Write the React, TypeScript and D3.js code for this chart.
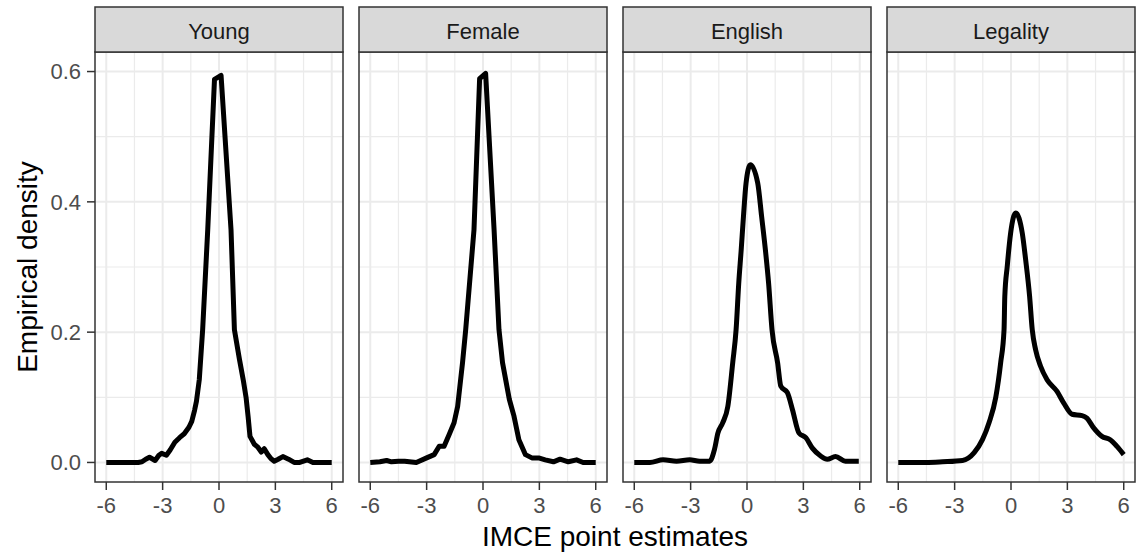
import React from "react";
import * as d3 from "d3";

// facet labels
const facets = ["Young", "Female", "English", "Legality"];

// axis breaks
const xTicks = [-6, -3, 0, 3, 6];
const xMinor = [-4.5, -1.5, 1.5, 4.5];
const yTicks = [0, 0.2, 0.4, 0.6];
const yMinor = [0.1, 0.3, 0.5];

// density estimates: [x, density]
const young: [number, number][] = [
  [-6, 0], [-5, 0], [-4.3, 0], [-4.1, 0.001], [-3.9, 0.005], [-3.7, 0.008], [-3.4, 0.003],
  [-3.2, 0.011], [-3.05, 0.014], [-2.8, 0.011], [-2.6, 0.019], [-2.35, 0.031], [-2.1, 0.038],
  [-1.85, 0.044], [-1.6, 0.054], [-1.45, 0.063], [-1.3, 0.08], [-1.2, 0.094],
  [-1.05, 0.127], [-0.87, 0.204], [-0.6, 0.357], [-0.24, 0.588], [0.11, 0.594],
  [0.64, 0.357], [0.82, 0.204], [1.09, 0.158], [1.3, 0.125], [1.44, 0.1],
  [1.55, 0.07], [1.65, 0.04], [1.88, 0.028], [2.05, 0.024], [2.25, 0.016],
  [2.41, 0.021], [2.6, 0.012], [2.76, 0.006], [2.94, 0.002], [3.15, 0.005],
  [3.4, 0.009], [3.7, 0.005], [4.0, 0], [4.3, 0], [4.5, 0.002], [4.7, 0.004], [5.0, 0],
  [5.5, 0], [6, 0],
];

const female: [number, number][] = [
  [-6, 0], [-5.49, 0.001], [-5.13, 0.003], [-4.87, 0.001], [-4.5, 0.002],
  [-4.17, 0.002], [-3.55, 0], [-3.0, 0.007], [-2.6, 0.012], [-2.33, 0.025],
  [-2.07, 0.025], [-1.8, 0.043], [-1.54, 0.061], [-1.35, 0.086], [-1.09, 0.153],
  [-0.92, 0.204], [-0.48, 0.357], [-0.18, 0.589], [0.14, 0.597], [0.59, 0.357],
  [0.85, 0.204], [1.04, 0.153], [1.4, 0.097], [1.65, 0.071], [1.91, 0.035],
  [2.26, 0.012], [2.6, 0.007], [2.96, 0.007], [3.31, 0.004], [3.75, 0.001],
  [4.1, 0.005], [4.54, 0.001], [4.98, 0.004], [5.33, 0], [6, 0],
];

const english: [number, number][] = [
  [-6, 0], [-5.17, 0], [-4.46, 0.004], [-3.75, 0.002], [-3.05, 0.004],
  [-2.52, 0.002], [-1.99, 0.002], [-1.73, 0.02], [-1.55, 0.045], [-1.29, 0.061],
  [-1.02, 0.086], [-0.76, 0.153], [-0.58, 0.204], [-0.44, 0.275], [-0.31, 0.326],
  [-0.19, 0.377], [-0.05, 0.429], [0.18, 0.457], [0.57, 0.429], [0.78, 0.377],
  [0.98, 0.326], [1.15, 0.275], [1.33, 0.204], [1.63, 0.153], [1.8, 0.117],
  [2.15, 0.107], [2.42, 0.081], [2.77, 0.045], [3.13, 0.038], [3.48, 0.022],
  [3.92, 0.01], [4.27, 0.005], [4.71, 0.009], [5.24, 0.002], [5.95, 0.002],
];

const legality: [number, number][] = [
  [-6, 0], [-4.52, 0], [-3.64, 0.001], [-2.58, 0.003], [-1.96, 0.015],
  [-1.52, 0.035], [-1.17, 0.061], [-0.81, 0.1], [-0.55, 0.153], [-0.37, 0.204],
  [-0.33, 0.255], [-0.2, 0.301], [-0.02, 0.352], [0.25, 0.383], [0.6, 0.352],
  [0.78, 0.311], [0.99, 0.255], [1.13, 0.204], [1.31, 0.173], [1.57, 0.148],
  [1.92, 0.127], [2.45, 0.109], [2.81, 0.091], [3.25, 0.074], [3.78, 0.072],
  [4.04, 0.068], [4.4, 0.053], [4.84, 0.04], [5.28, 0.035], [5.63, 0.025],
  [6.0, 0.012],
];

const series = [young, female, english, legality];
// Young and Female have sharp, angular peaks; the others are smooth
const curves = [d3.curveLinear, d3.curveLinear, d3.curveMonotoneX, d3.curveMonotoneX];

const W = 1138;
const H = 558;
const panelLefts = [95, 359, 623, 887];
const panelW = 248;
const stripTop = 7;
const stripBottom = 52;
const panelBottom = 482;

const font = "'Liberation Sans', Arial, sans-serif";
const grid = "#EBEBEB";
const dark = "#333333";

const y = d3.scaleLinear().domain([-0.03, 0.63]).range([panelBottom, stripBottom]);

export default function App() {
  return (
    <svg
      width={W}
      height={H}
      style={{ position: "absolute", left: 0, top: 0, background: "#fff" }}
      fontFamily={font}
    >
      {facets.map((name, i) => {
        const left = panelLefts[i];
        const x = d3.scaleLinear().domain([-6.6, 6.6]).range([left, left + panelW]);
        const line = d3
          .line<[number, number]>()
          .x((d) => x(d[0]))
          .y((d) => y(d[1]))
          .curve(curves[i]);
        return (
          <g key={name}>
            <rect x={left} y={stripBottom} width={panelW} height={panelBottom - stripBottom} fill="#fff" />
            {xMinor.map((t) => (
              <line key={"xm" + t} x1={x(t)} x2={x(t)} y1={stripBottom} y2={panelBottom} stroke={grid} strokeWidth={1.2} />
            ))}
            {yMinor.map((t) => (
              <line key={"ym" + t} x1={left} x2={left + panelW} y1={y(t)} y2={y(t)} stroke={grid} strokeWidth={1.2} />
            ))}
            {xTicks.map((t) => (
              <line key={"xg" + t} x1={x(t)} x2={x(t)} y1={stripBottom} y2={panelBottom} stroke={grid} strokeWidth={2} />
            ))}
            {yTicks.map((t) => (
              <line key={"yg" + t} x1={left} x2={left + panelW} y1={y(t)} y2={y(t)} stroke={grid} strokeWidth={2} />
            ))}
            <path
              d={line(series[i]) || ""}
              fill="none"
              stroke="#000"
              strokeWidth={5}
              strokeLinejoin="round"
              strokeLinecap="butt"
            />
            <rect
              x={left}
              y={stripBottom}
              width={panelW}
              height={panelBottom - stripBottom}
              fill="none"
              stroke={dark}
              strokeWidth={1.5}
            />
            <rect
              x={left}
              y={stripTop}
              width={panelW}
              height={stripBottom - stripTop}
              fill="#D9D9D9"
              stroke={dark}
              strokeWidth={1.5}
            />
            <text x={left + panelW / 2} y={39} textAnchor="middle" fontSize={22} fill="#1A1A1A">
              {name}
            </text>
            {xTicks.map((t) => (
              <g key={"xt" + t}>
                <line x1={x(t)} x2={x(t)} y1={panelBottom} y2={panelBottom + 8} stroke={dark} strokeWidth={1.5} />
                <text x={x(t)} y={513} textAnchor="middle" fontSize={22} fill="#4D4D4D">
                  {t}
                </text>
              </g>
            ))}
          </g>
        );
      })}
      {yTicks.map((t) => (
        <g key={"yt" + t}>
          <line x1={87} x2={95} y1={y(t)} y2={y(t)} stroke={dark} strokeWidth={1.5} />
          <text x={81} y={y(t)} dy="0.35em" textAnchor="end" fontSize={22} fill="#4D4D4D">
            {d3.format(".1f")(t)}
          </text>
        </g>
      ))}
      <text x={615} y={546} textAnchor="middle" fontSize={28} fill="#000">
        IMCE point estimates
      </text>
      <text
        transform={`translate(37,${(stripBottom + panelBottom) / 2}) rotate(-90)`}
        textAnchor="middle"
        fontSize={28}
        fill="#000"
      >
        Empirical density
      </text>
    </svg>
  );
}
